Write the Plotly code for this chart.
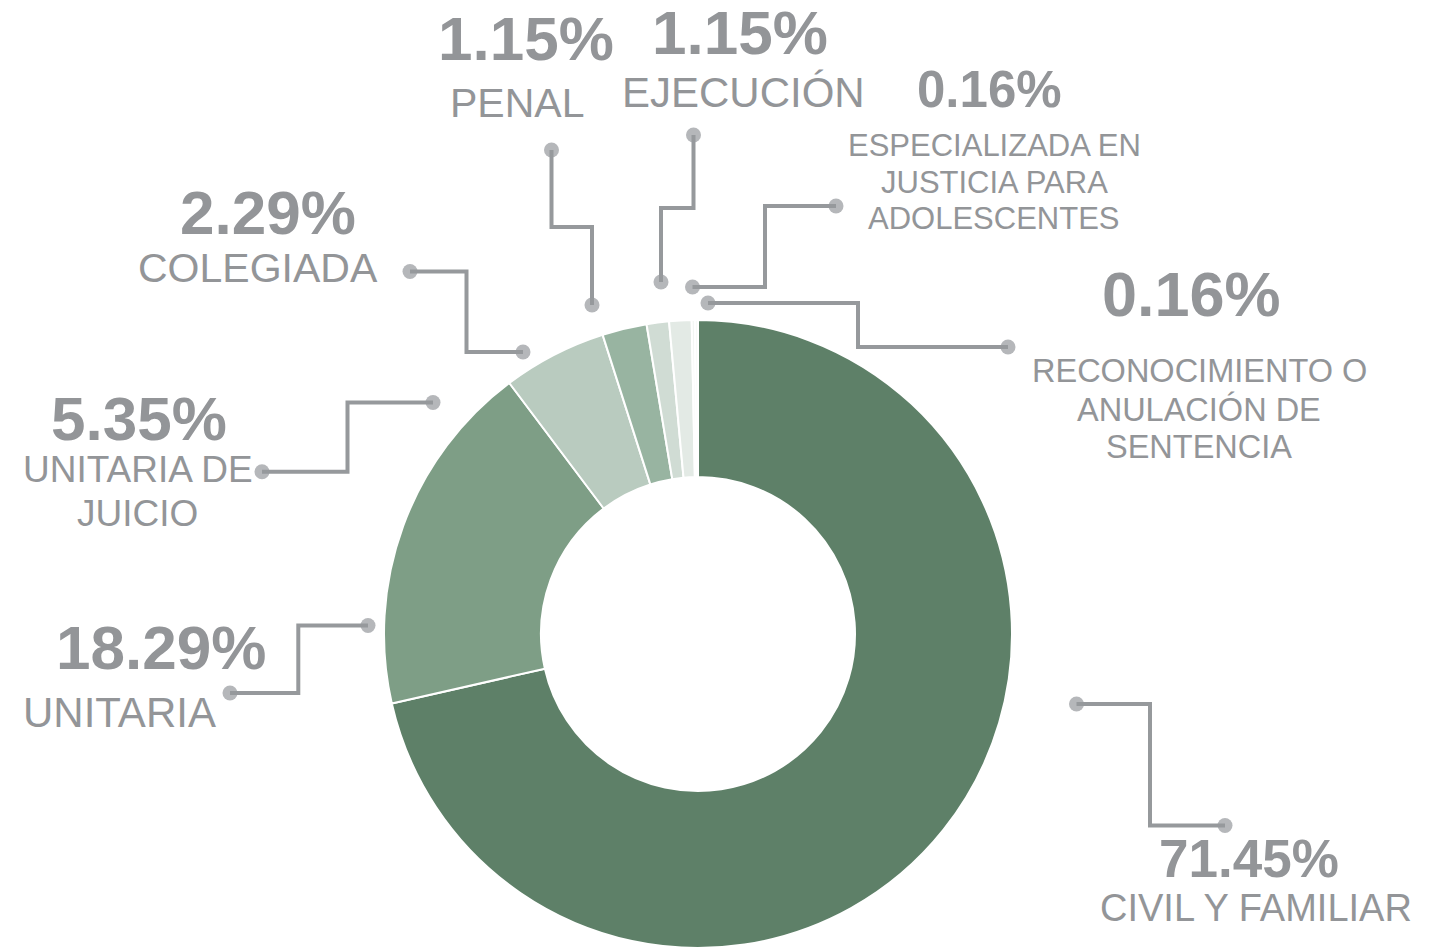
import plotly.graph_objects as go

# ---------------- data ----------------
categories = [
    "CIVIL Y FAMILIAR",
    "UNITARIA",
    "UNITARIA DE JUICIO",
    "COLEGIADA",
    "PENAL",
    "EJECUCIÓN",
    "ESPECIALIZADA EN JUSTICIA PARA ADOLESCENTES",
    "RECONOCIMIENTO O ANULACIÓN DE SENTENCIA",
]
values = [71.45, 18.29, 5.35, 2.29, 1.15, 1.15, 0.16, 0.16]
label_lines = [
    ["CIVIL Y FAMILIAR"],
    ["UNITARIA"],
    ["UNITARIA DE", "JUICIO"],
    ["COLEGIADA"],
    ["PENAL"],
    ["EJECUCIÓN"],
    ["ESPECIALIZADA EN", "JUSTICIA PARA", "ADOLESCENTES"],
    ["RECONOCIMIENTO O", "ANULACIÓN DE", "SENTENCIA"],
]

# ---------------- styling / layout ----------------
W, H = 1433, 950
OFF = 8  # default page body margin
FW, FH = W - OFF, H - OFF
slice_colors = ["#5E8068", "#7E9E86", "#B9CBBF", "#98B4A1",
                "#D0DCD4", "#E3EAE5", "#F1F5F2", "#F8FAF8"]
text_color = "#939598"
line_color = "#96999C"
font_family = "Arial, 'Liberation Sans', sans-serif"

cx, cy, R = 698, 634, 314

# label placement: (center x, baseline of percent, percent size,
#                   center x of label, baselines of label lines, label size)
label_pos = [
    (1249, 877, 53, 1255.5, [922], 38),
    (161, 670, 62, 119.5, [728], 42),
    (139, 441, 62, 137.5, [483, 527], 37),
    (267.5, 235, 62, 257.5, [283], 41),
    (525.5, 61, 62, 516.5, [118], 41),
    (740, 55, 62, 743.5, [108], 42),
    (989, 108, 51, 994, [157, 193.5, 230], 31),
    (1191, 317, 63, 1199, [383, 421, 459], 32.5),
]

# leader-line paths (pixel positions in the window)
leader_paths = [
    [(1076.5, 704), (1150, 704), (1150, 825.5), (1225, 825.5)],
    [(368, 625.5), (298.3, 625.5), (298.3, 693), (230, 693)],
    [(433, 402.5), (347.5, 402.5), (347.5, 471.7), (262, 471.7)],
    [(410, 271.5), (466.5, 271.5), (466.5, 352), (523, 352)],
    [(551.5, 150), (551.5, 227), (592, 227), (592, 305)],
    [(693.5, 135), (693.5, 208), (661, 208), (661, 282)],
    [(836, 206), (765, 206), (765, 287), (692.5, 287)],
    [(708, 303), (858, 303), (858, 347), (1008, 347)],
]

fig = go.Figure()

fig.add_trace(go.Pie(
    labels=categories,
    values=values,
    sort=False,
    direction="clockwise",
    rotation=0,
    hole=0.5,
    textinfo="none",
    hoverinfo="label+percent",
    marker=dict(colors=slice_colors, line=dict(color="white", width=2)),
    domain=dict(x=[(cx - R - OFF) / FW, (cx + R - OFF) / FW],
                y=[1 - (cy + R - OFF) / FH, 1 - (cy - R - OFF) / FH]),
    showlegend=False,
))

for path in leader_paths:
    xs = [p[0] for p in path]
    ys = [p[1] for p in path]
    sizes = [15 if i in (0, len(path) - 1) else 0 for i in range(len(path))]
    fig.add_trace(go.Scatter(
        x=xs, y=ys, mode="lines+markers",
        line=dict(color=line_color, width=4),
        marker=dict(color=line_color, size=sizes, line=dict(width=0)),
        hoverinfo="skip", showlegend=False, cliponaxis=False,
    ))

annotations = []
for val, lines, pos in zip(values, label_lines, label_pos):
    pcx, pbase, psize, lcx, lbases, lsize = pos
    annotations.append(dict(
        x=pcx, y=pbase - 0.358 * psize, xref="x", yref="y",
        text=f"<b>{val:.2f}%</b>", showarrow=False,
        xanchor="center", yanchor="middle",
        font=dict(family=font_family, size=psize, color=text_color),
    ))
    for line, base in zip(lines, lbases):
        annotations.append(dict(
            x=lcx, y=base - 0.358 * lsize, xref="x", yref="y",
            text=line, showarrow=False,
            xanchor="center", yanchor="middle",
            font=dict(family=font_family, size=lsize, color=text_color),
        ))

fig.update_layout(
    width=FW, height=FH,
    margin=dict(l=0, r=0, t=0, b=0),
    paper_bgcolor="white", plot_bgcolor="rgba(0,0,0,0)",
    xaxis=dict(range=[OFF, W], visible=False, fixedrange=True),
    yaxis=dict(range=[H, OFF], visible=False, fixedrange=True),
    annotations=annotations,
    showlegend=False,
)

fig.write_html("out.html")
